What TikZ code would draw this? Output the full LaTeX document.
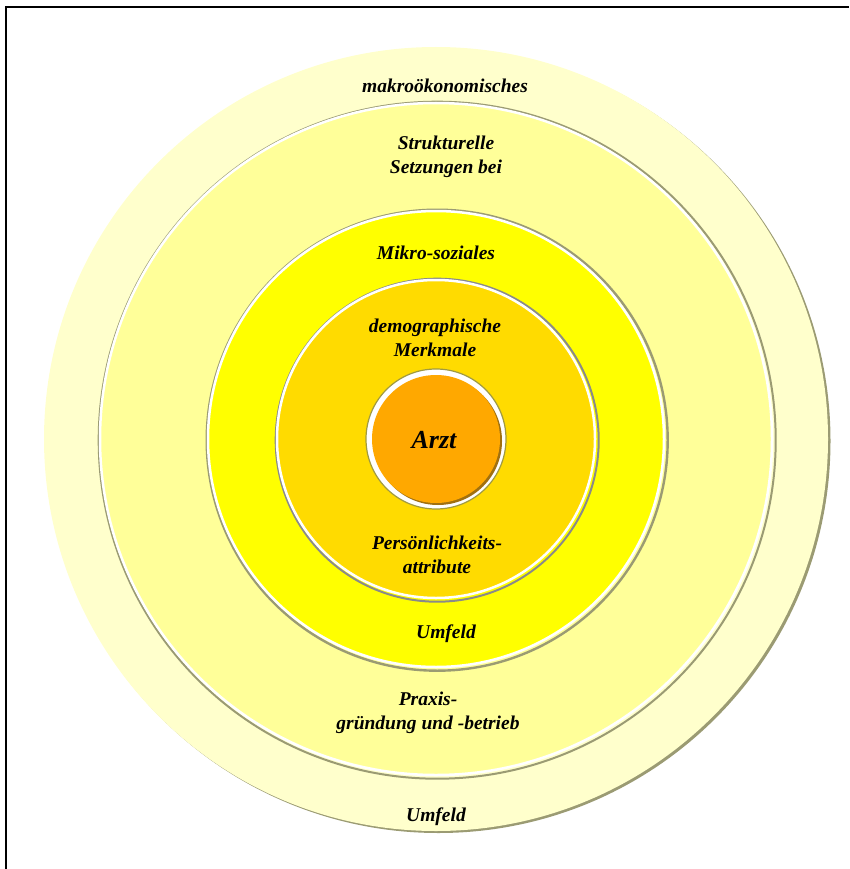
\documentclass[tikz,border=0pt]{standalone}
\usepackage{fontspec}
\setmainfont{Liberation Serif}
\usepackage{tikz}
\usetikzlibrary{calc}
\definecolor{ringOuter}{HTML}{FFFFCC}
\definecolor{ringPale}{HTML}{FFFF99}
\definecolor{ringYellow}{HTML}{FFFF00}
\definecolor{ringGold}{HTML}{FFDB00}
\definecolor{coreOrange}{HTML}{FFA800}
\definecolor{shadeOlive}{HTML}{9B9B73}
\definecolor{shadeGrey}{HTML}{8A8A8A}
\definecolor{coreShade}{HTML}{A07010}
\definecolor{coreRim}{HTML}{A09A40}

\begin{document}
\begin{tikzpicture}[x=1pt,y=-1pt,
    ringtext/.style={font=\bfseries\itshape\fontsize{19.5}{23.5}\selectfont,
      align=center, inner sep=0pt},
    rim/.style={draw=white, line width=2.5pt}]
  \useasboundingbox (0,0) rectangle (849,869);
  \draw[line width=1.6pt] (6,869) -- (6,7) -- (849,7);
  \coordinate (O) at (436,439);

  % Ringe von aussen nach innen
  \fill[shadeOlive] ($(O)+(2.5,2)$) circle (392pt);
  \fill[ringOuter] (O) circle (392pt);
  \draw[shadeOlive, line width=2pt] ($(O)+(1.2,1.2)$) circle (338.5pt);
  \filldraw[rim, fill=ringPale] (O) circle (336pt);
  \draw[shadeOlive, line width=2.4pt] ($(O)+(1.2,1.2)$) circle (230.5pt);
  \filldraw[rim, fill=ringYellow] (O) circle (228pt);
  \draw[shadeGrey, line width=2pt] ($(O)+(1.2,1.2)$) circle (161.5pt);
  \filldraw[rim, fill=ringGold] (O) circle (159pt);
  \filldraw[fill=white, draw=coreRim, line width=1.2pt] (O) circle (70pt);
  \fill[coreShade] ($(O)+(2,2)$) circle (64pt);
  \fill[coreOrange] (O) circle (64pt);

  \node[ringtext, anchor=base] (makro) at (445,93) {makroökonomisches};
  \node[ringtext] (struktur) at (446,157) {Strukturelle\\Setzungen bei};
  \node[ringtext, anchor=base] (mikro) at (436,259) {Mikro-soziales};
  \node[ringtext] (demo) at (435,338) {demographische\\Merkmale};
  \node[ringtext, anchor=base, font=\bfseries\itshape\fontsize{26}{30}\selectfont]
    (arzt) at (434,448) {Arzt};
  \node[ringtext] (person) at (437,555) {Persönlichkeits-\\attribute};
  \node[ringtext, anchor=base] (umfeldA) at (446,638) {Umfeld};
  \node[ringtext] (praxis) at (428,713) {Praxis-\\gründung und -betrieb};
  \node[ringtext, anchor=base] (umfeldB) at (436,821) {Umfeld};
\end{tikzpicture}
\end{document}
